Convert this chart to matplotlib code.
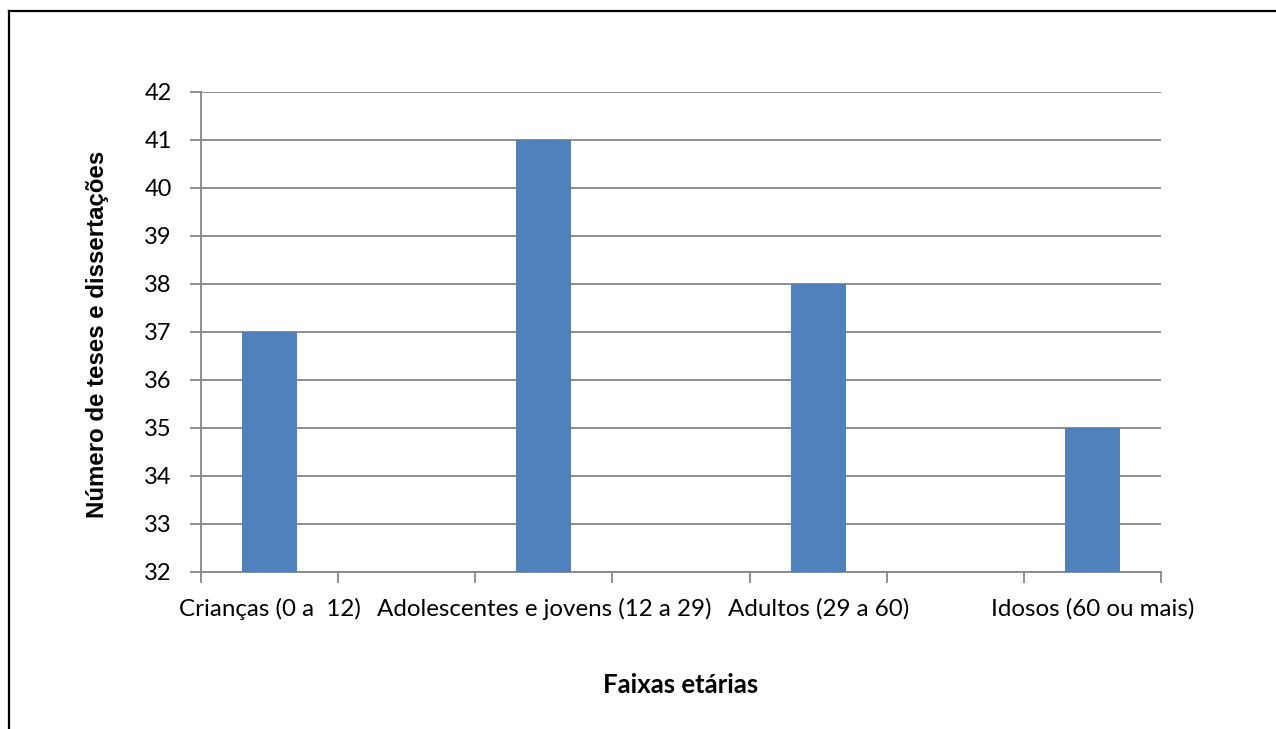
import matplotlib
matplotlib.use("Agg")
import matplotlib.pyplot as plt
from matplotlib.lines import Line2D

categories = ["Crianças (0 a  12)", "Adolescentes e jovens (12 a 29)", "Adultos (29 a 60)", "Idosos (60 ou mais)"]
values = [37, 41, 38, 35]
y_ticks = [32, 33, 34, 35, 36, 37, 38, 39, 40, 41, 42]
x_title = "Faixas etárias"
y_title = "Número de teses e dissertações"

W, H = 1276, 729
fig = plt.figure(figsize=(W / 100, H / 100), dpi=100)
ax = fig.add_axes([201 / W, 1 - 572 / H, (1161 - 201) / W, (572 - 92) / H])

gray = "#868686"
positions = [2 * i for i in range(len(categories))]
ax.bar(positions, values, width=0.4, color="#4F81BD", bottom=0, zorder=3)

ax.set_ylim(y_ticks[0], y_ticks[-1])
ax.set_xlim(-0.5, 2 * len(categories) - 1.5)
ax.set_yticks(y_ticks)
ax.set_yticklabels([str(v) for v in y_ticks], fontsize=17, family="Lato")
ax.yaxis.grid(True, color=gray, linewidth=1.3, zorder=0)

boundaries = [b - 0.5 for b in range(2 * len(categories))]
ax.set_xticks(boundaries)
ax.set_xticklabels([""] * len(boundaries))
ax.set_xticks(positions, minor=True)
ax.set_xticklabels(categories, minor=True, fontsize=17.4, family="Lato")
ax.tick_params(axis="x", which="minor", length=0, pad=19)
ax.tick_params(axis="x", which="major", length=8, color=gray, width=1.3)
ax.tick_params(axis="y", length=8, color=gray, width=1.3, pad=13)

for s in ["top", "right"]:
    ax.spines[s].set_visible(False)
for s in ["left", "bottom"]:
    ax.spines[s].set_color(gray)
    ax.spines[s].set_linewidth(1.3)

fig.text(98 / W, 1 - 334 / H, y_title, rotation=90, ha="center", va="center",
         fontsize=17.3, fontweight="bold", family="Liberation Sans")
fig.text(681 / W, 1 - 685 / H, x_title, ha="center", va="center",
         fontsize=18.5, fontweight="bold", family="Lato")

fig.add_artist(Line2D([9 / W, 1], [1 - 11 / H, 1 - 11 / H], color="black", linewidth=1.6, transform=fig.transFigure))
fig.add_artist(Line2D([9 / W, 9 / W], [1 - 11 / H, 0], color="black", linewidth=1.6, transform=fig.transFigure))

fig.savefig("out.png", dpi=100)
